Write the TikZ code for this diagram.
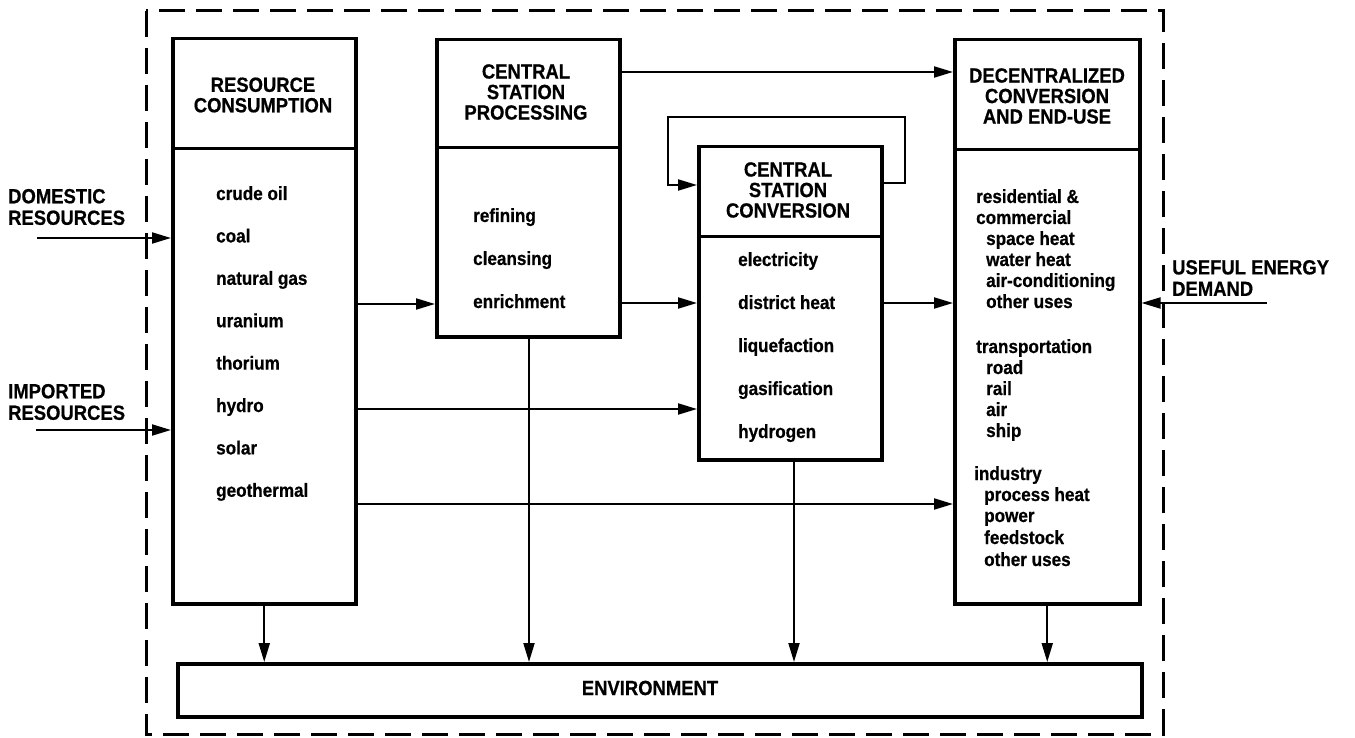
\documentclass[tikz,border=0pt]{standalone}
\usepackage{fontspec}
\setmainfont{Liberation Sans}[FakeStretch=0.9,BoldFeatures={FakeBold=0.6}]
\usetikzlibrary{arrows.meta}

\tikzset{
  box/.style={draw,line width=3.5pt,anchor=north west,inner sep=0pt},
  divline/.style={line width=3pt},
  hdr/.style={align=center,inner sep=0pt,font=\fontsize{20.5}{20.5}\selectfont\bfseries},
  lbl/.style={align=left,anchor=west,inner sep=0pt,font=\fontsize{20.5}{21.5}\selectfont\bfseries},
  itm/.style={anchor=base west,inner sep=0pt,font=\fontsize{19}{21}\selectfont\bfseries},
  arr/.style={line width=2pt,-{Triangle[length=19pt,width=11pt]}},
  frame/.style={line width=3pt,dash pattern=on 26pt off 11pt}
}

\begin{document}
\begin{tikzpicture}[x=1pt,y=-1pt]
			\useasboundingbox (0,0) rectangle (1355,738);
			\draw[frame] (146,11) rectangle (1163,734);

			\node[box,minimum width=183pt,minimum height=565pt] (res) at (171,37) {};
			\node[box,minimum width=183pt,minimum height=297pt] (proc) at (435,38) {};
			\node[box,minimum width=183pt,minimum height=313pt] (conv) at (697,145) {};
			\node[box,minimum width=185pt,minimum height=564pt] (dec) at (953,38) {};
			\node[box,minimum width=964pt,minimum height=53pt] (env) at (176,662) {};

			\draw[divline] (res.west |- 0,149) -- (res.east |- 0,149);
			\draw[divline] (proc.west |- 0,148) -- (proc.east |- 0,148);
			\draw[divline] (conv.west |- 0,237) -- (conv.east |- 0,237);
			\draw[divline] (dec.west |- 0,150) -- (dec.east |- 0,150);

			\node[hdr] (resH) at (263,95) {RESOURCE\\CONSUMPTION};
			\node[hdr] (procH) at (526,92) {CENTRAL\\STATION\\PROCESSING};
			\node[hdr] (convH) at (788,190) {CENTRAL\\STATION\\CONVERSION};
			\node[hdr] (decH) at (1047,96) {DECENTRALIZED\\CONVERSION\\AND END-USE};
			\node[hdr] (envH) at (650,688) {ENVIRONMENT};

			\node[lbl] (dom) at (8,207) {DOMESTIC\\RESOURCES};
			\node[lbl] (imp) at (8,402) {IMPORTED\\RESOURCES};
			\node[lbl] (use) at (1172,278) {USEFUL ENERGY\\DEMAND};

			\foreach \t [count=\i from 0] in {crude oil,coal,natural gas,uranium,thorium,hydro,solar,geothermal} {
				\node[itm] (r\i) at (216,200+42.4*\i) {\t};
			}
			\foreach \t [count=\i from 0] in {refining,cleansing,enrichment} {
				\node[itm] (p\i) at (473,222+43*\i) {\t};
			}
			\foreach \t [count=\i from 0] in {electricity,district heat,liquefaction,gasification,hydrogen} {
				\node[itm] (c\i) at (738,266+43*\i) {\t};
			}
			\foreach \x/\y/\t [count=\i from 0] in {976/203/residential \&,976/224/commercial,986/245/space heat,986/266/water heat,
					986/287/air-conditioning,986/308/other uses,976/353/transportation,986/374/road,986/395/rail,986/416/air,
					986/437/ship,974/480/industry,984/501/process heat,984/522/power,984/544/feedstock,984/566/other uses} {
				\node[itm] (d\i) at (\x,\y) {\t};
			}

			\coordinate (domS) at (37,238);
			\coordinate (impS) at (36,430);
			\coordinate (useS) at (1267,303);
			\draw[arr] (domS) -- (res.west |- domS);
			\draw[arr] (impS) -- (res.west |- impS);
			\draw[arr] (useS) -- (dec.east |- useS);

			\draw[arr] (res.east |- 0,304) -- (proc.west |- 0,304);
			\draw[arr] (res.east |- 0,409) -- (conv.west |- 0,409);
			\draw[arr] (res.east |- 0,504) -- (dec.west |- 0,504);
			\draw[arr] (proc.east |- 0,72) -- (dec.west |- 0,72);
			\draw[arr] (proc.east |- 0,303) -- (conv.west |- 0,303);
			\draw[arr] (conv.east |- 0,303) -- (dec.west |- 0,303);
			\draw[arr] (conv.east |- 0,183) -| (905,117) -| (668,185) -- (conv.west |- 0,185);

			\draw[arr] (res.south) -- (res.south |- env.north);
			\draw[arr] (proc.south -| 529,0) -- (529,0 |- env.north);
			\draw[arr] (conv.south -| 794,0) -- (794,0 |- env.north);
			\draw[arr] (dec.south) -- (dec.south |- env.north);
		\end{tikzpicture}
\end{document}
